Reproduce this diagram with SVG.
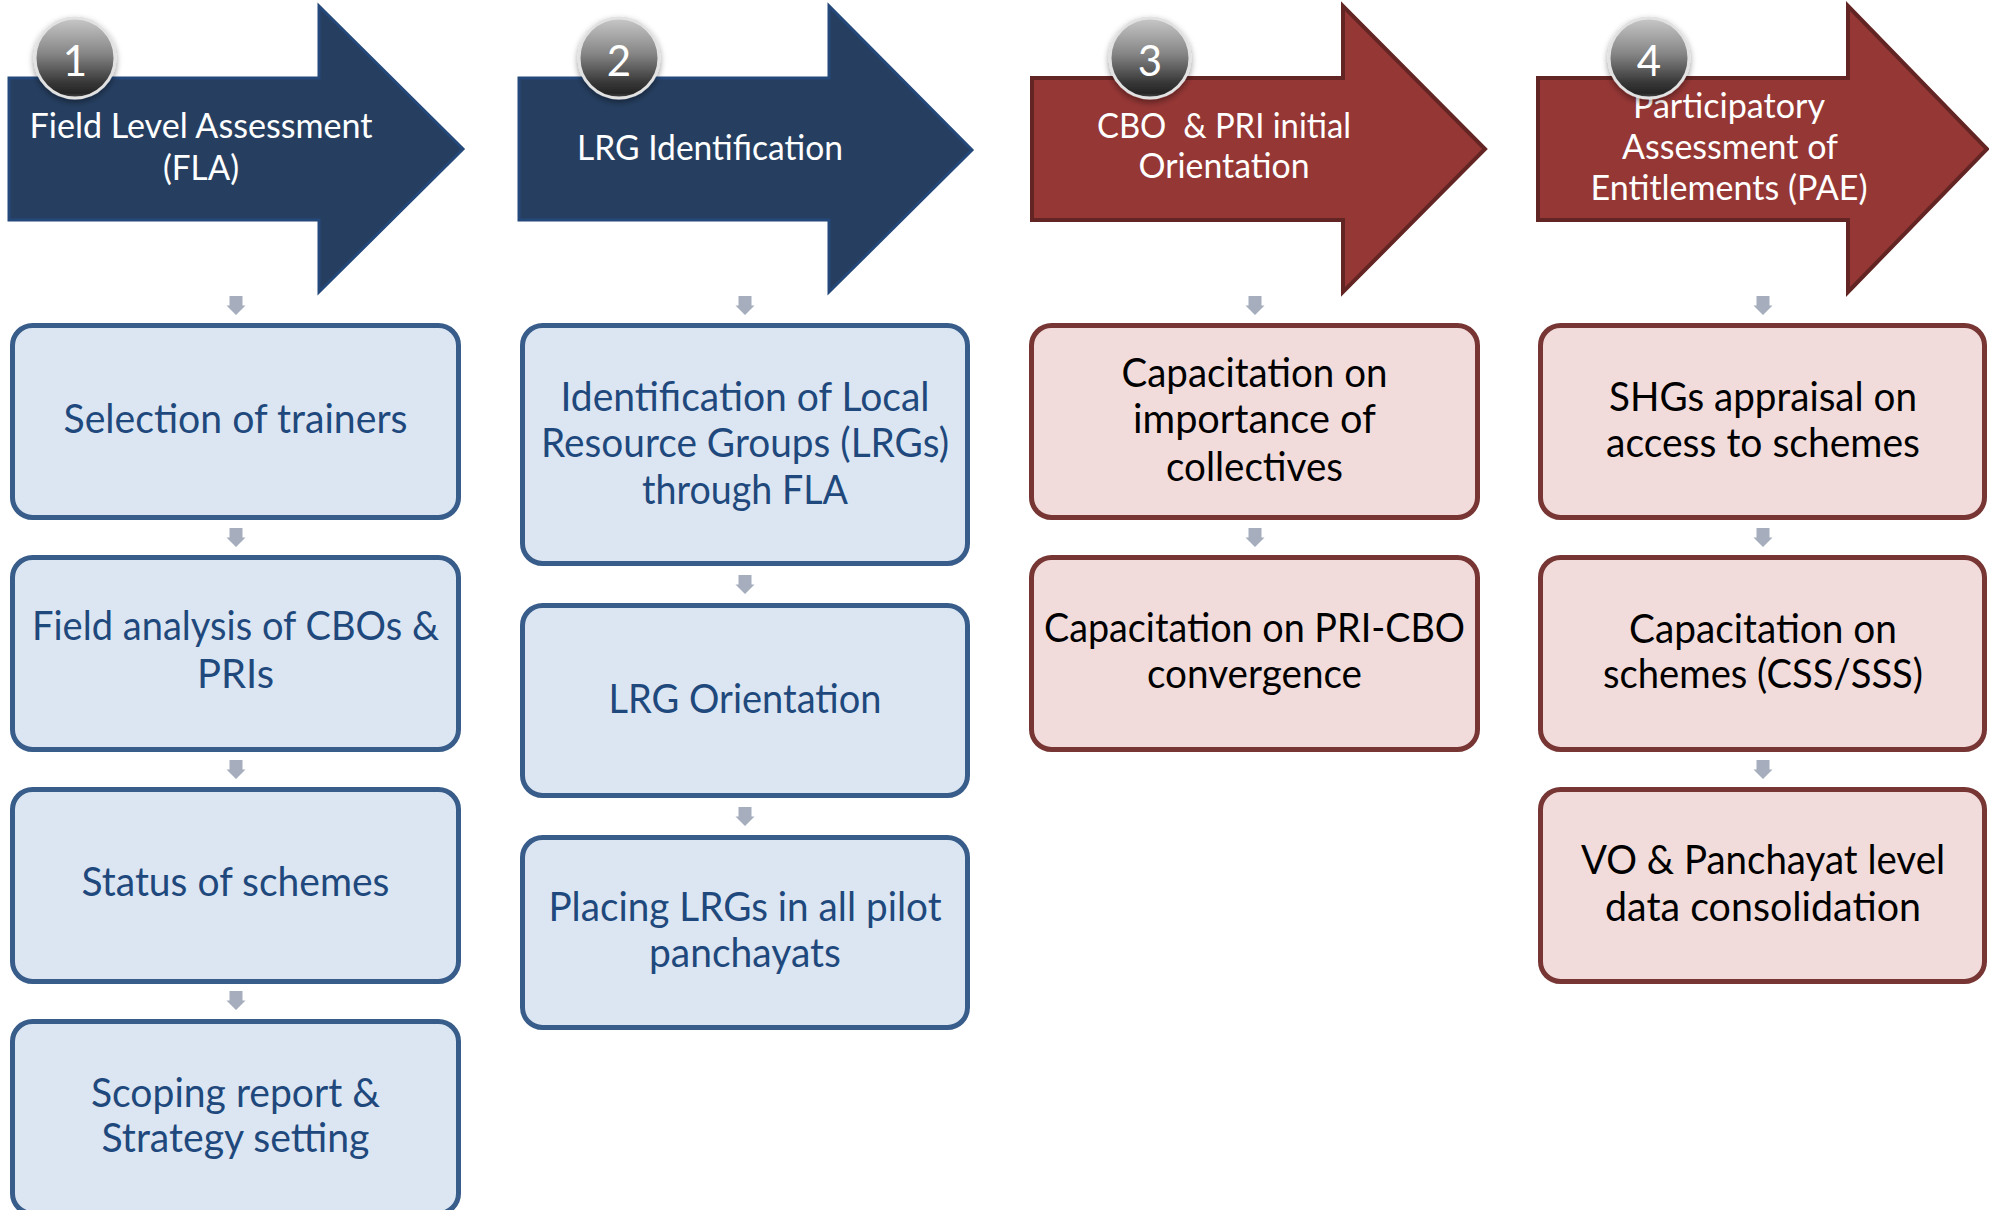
<svg xmlns="http://www.w3.org/2000/svg" xmlns:xlink="http://www.w3.org/1999/xlink" width="1989" height="1210" viewBox="0 0 1989 1210">
<style>
.ab{fill:#263F61;stroke:#24487A;stroke-width:3;stroke-linejoin:miter}
.ar{fill:#953735;stroke:#632523;stroke-width:4;stroke-linejoin:miter}
.bb{fill:#DCE6F2;stroke:#385D8A;stroke-width:5}
.br{fill:#F2DCDB;stroke:#773634;stroke-width:5}
.ht{font-family:Lato,"Open Sans",sans-serif;font-size:34px;fill:#FFFFFF;text-anchor:middle}
.tb{font-family:Lato,"Open Sans",sans-serif;font-size:40px;fill:#1F497D;text-anchor:middle}
.tk{font-family:Lato,"Open Sans",sans-serif;font-size:40px;fill:#000000;text-anchor:middle}
.num{font-family:Lato,"Open Sans",sans-serif;font-size:42px;fill:#FFFFFF;text-anchor:middle}
.badge{fill:url(#sphere);stroke:#E2E2E2;stroke-width:3;filter:url(#sh)}
.con{fill:#A6ADBD}
</style>
<defs>
<linearGradient id="sphere" x1="0" y1="0" x2="0" y2="1">
<stop offset="0" stop-color="#C8C8C8"/>
<stop offset="0.45" stop-color="#858585"/>
<stop offset="0.82" stop-color="#353535"/>
<stop offset="0.94" stop-color="#262626"/>
<stop offset="1" stop-color="#4A4A4A"/>
</linearGradient>
<filter id="sh" x="-30%" y="-30%" width="160%" height="170%">
<feDropShadow dx="0" dy="3" stdDeviation="3" flood-color="#000000" flood-opacity="0.4"/>
</filter>
<path id="dn" d="M-6.5,0 H6.5 V9.5 H9.5 L0,19 L-9.5,9.5 H-6.5 Z"/>
</defs>
<rect x="0" y="0" width="1989" height="1210" fill="#FFFFFF"/>

<!-- Stage arrows -->
<g id="stage1">
<polygon class="ab" points="9,78 319,78 319,6 463,149 319,292 319,220 9,220"/>
<text class="ht" x="201" y="138" textLength="343" lengthAdjust="spacingAndGlyphs">Field Level Assessment</text>
<text class="ht" x="201" y="180" textLength="76" lengthAdjust="spacingAndGlyphs">(FLA)</text>
<circle class="badge" cx="75" cy="58" r="40"/>
<text class="num" x="75" y="76">1</text>
</g>
<g id="stage2">
<polygon class="ab" points="519,78 829,78 829,6 972,150 829,292 829,220 519,220"/>
<text class="ht" x="710" y="160" textLength="266" lengthAdjust="spacingAndGlyphs">LRG Identification</text>
<circle class="badge" cx="619" cy="58" r="40"/>
<text class="num" x="619" y="76">2</text>
</g>
<g id="stage3">
<polygon class="ar" points="1032,78 1343,78 1343,6 1485,149 1343,292 1343,220 1032,220"/>
<text class="ht" x="1224" y="138" xml:space="preserve" textLength="254" lengthAdjust="spacingAndGlyphs">CBO  &amp; PRI initial</text>
<text class="ht" x="1224" y="178" textLength="171" lengthAdjust="spacingAndGlyphs">Orientation</text>
<circle class="badge" cx="1150" cy="58" r="40"/>
<text class="num" x="1150" y="76">3</text>
</g>
<g id="stage4">
<polygon class="ar" points="1538,78 1848,78 1848,6 1987,149 1848,292 1848,220 1538,220"/>
<text class="ht" x="1729" y="118" textLength="192" lengthAdjust="spacingAndGlyphs">Participatory</text>
<text class="ht" x="1730" y="159" textLength="216" lengthAdjust="spacingAndGlyphs">Assessment of</text>
<text class="ht" x="1729" y="200" textLength="277" lengthAdjust="spacingAndGlyphs">Entitlements (PAE)</text>
<circle class="badge" cx="1649" cy="58" r="40"/>
<text class="num" x="1649" y="76">4</text>
</g>

<!-- Column 1 -->
<g id="c1b1">
<rect class="bb" x="12.5" y="325.5" width="446" height="192" rx="20"/>
<text class="tb" x="235.5" y="433" textLength="344" lengthAdjust="spacingAndGlyphs">Selection of trainers</text>
</g>
<g id="c1b2">
<rect class="bb" x="12.5" y="557.5" width="446" height="192" rx="20"/>
<text class="tb" x="235.5" y="640" textLength="407" lengthAdjust="spacingAndGlyphs">Field analysis of CBOs &amp;</text>
<text class="tb" x="235.5" y="688">PRIs</text>
</g>
<g id="c1b3">
<rect class="bb" x="12.5" y="789.5" width="446" height="192" rx="20"/>
<text class="tb" x="235.5" y="896" textLength="308" lengthAdjust="spacingAndGlyphs">Status of schemes</text>
</g>
<g id="c1b4">
<rect class="bb" x="12.5" y="1021.5" width="446" height="192" rx="20"/>
<text class="tb" x="235.5" y="1107" textLength="289" lengthAdjust="spacingAndGlyphs">Scoping report &amp;</text>
<text class="tb" x="235.5" y="1152" textLength="268" lengthAdjust="spacingAndGlyphs">Strategy setting</text>
</g>

<!-- Column 2 -->
<g id="c2b1">
<rect class="bb" x="522.5" y="325.5" width="445" height="238" rx="20"/>
<text class="tb" x="745" y="411" textLength="369" lengthAdjust="spacingAndGlyphs">Identification of Local</text>
<text class="tb" x="745" y="457" textLength="408" lengthAdjust="spacingAndGlyphs">Resource Groups (LRGs)</text>
<text class="tb" x="745" y="504" textLength="206" lengthAdjust="spacingAndGlyphs">through FLA</text>
</g>
<g id="c2b2">
<rect class="bb" x="522.5" y="605.5" width="445" height="190" rx="20"/>
<text class="tb" x="745" y="713" textLength="273" lengthAdjust="spacingAndGlyphs">LRG Orientation</text>
</g>
<g id="c2b3">
<rect class="bb" x="522.5" y="837.5" width="445" height="190" rx="20"/>
<text class="tb" x="745" y="921" textLength="393" lengthAdjust="spacingAndGlyphs">Placing LRGs in all pilot</text>
<text class="tb" x="745" y="967" textLength="192" lengthAdjust="spacingAndGlyphs">panchayats</text>
</g>

<!-- Column 3 -->
<g id="c3b1">
<rect class="br" x="1031.5" y="325.5" width="446" height="192" rx="20"/>
<text class="tk" x="1254.5" y="387" textLength="266" lengthAdjust="spacingAndGlyphs">Capacitation on</text>
<text class="tk" x="1254.5" y="433" textLength="243" lengthAdjust="spacingAndGlyphs">importance of</text>
<text class="tk" x="1254.5" y="481" textLength="177" lengthAdjust="spacingAndGlyphs">collectives</text>
</g>
<g id="c3b2">
<rect class="br" x="1031.5" y="557.5" width="446" height="192" rx="20"/>
<text class="tk" x="1254.5" y="642" textLength="421" lengthAdjust="spacingAndGlyphs">Capacitation on PRI-CBO</text>
<text class="tk" x="1254.5" y="688" textLength="215" lengthAdjust="spacingAndGlyphs">convergence</text>
</g>

<!-- Column 4 -->
<g id="c4b1">
<rect class="br" x="1540.5" y="325.5" width="444" height="192" rx="20"/>
<text class="tk" x="1763" y="411" textLength="308" lengthAdjust="spacingAndGlyphs">SHGs appraisal on</text>
<text class="tk" x="1763" y="457" textLength="314" lengthAdjust="spacingAndGlyphs">access to schemes</text>
</g>
<g id="c4b2">
<rect class="br" x="1540.5" y="557.5" width="444" height="192" rx="20"/>
<text class="tk" x="1763" y="643" textLength="268" lengthAdjust="spacingAndGlyphs">Capacitation on</text>
<text class="tk" x="1763" y="688" textLength="320" lengthAdjust="spacingAndGlyphs">schemes (CSS/SSS)</text>
</g>
<g id="c4b3">
<rect class="br" x="1540.5" y="789.5" width="444" height="192" rx="20"/>
<text class="tk" x="1763" y="874" textLength="364" lengthAdjust="spacingAndGlyphs">VO &amp; Panchayat level</text>
<text class="tk" x="1763" y="921" textLength="316" lengthAdjust="spacingAndGlyphs">data consolidation</text>
</g>

<!-- Connectors -->
<g id="connectors" class="con">
<use xlink:href="#dn" x="236" y="296"/>
<use xlink:href="#dn" x="236" y="528"/>
<use xlink:href="#dn" x="236" y="760"/>
<use xlink:href="#dn" x="236" y="991"/>
<use xlink:href="#dn" x="745" y="296"/>
<use xlink:href="#dn" x="745" y="575"/>
<use xlink:href="#dn" x="745" y="807"/>
<use xlink:href="#dn" x="1255" y="296"/>
<use xlink:href="#dn" x="1255" y="528"/>
<use xlink:href="#dn" x="1763" y="296"/>
<use xlink:href="#dn" x="1763" y="528"/>
<use xlink:href="#dn" x="1763" y="760"/>
</g>
</svg>
